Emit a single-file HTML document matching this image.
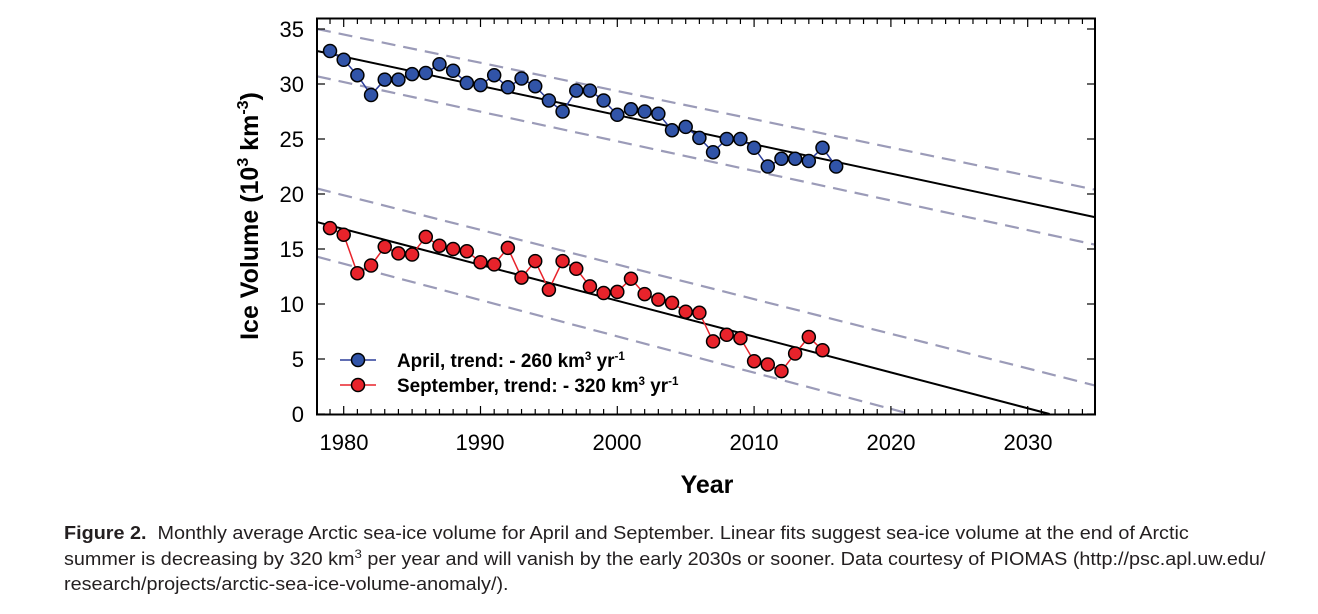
<!DOCTYPE html>
<html><head><meta charset="utf-8"><style>
body{margin:0;background:#fff;width:1318px;height:614px;overflow:hidden;position:relative;font-family:"Liberation Sans",sans-serif}
.cap{position:absolute;left:64px;top:521px;font-size:18px;line-height:25.5px;color:#231f20;white-space:nowrap;transform:scale(1.1,1);transform-origin:0 0}
</style></head><body>
<svg id="s" width="1318" height="520" style="position:absolute;left:0;top:0" font-family="Liberation Sans, sans-serif">
<g id="g"></g>
<rect x="317" y="18.5" width="778" height="396" fill="none" stroke="#000" stroke-width="2"/>
<g font-size="22" text-anchor="end" fill="#000">
<text x="304" y="37">35</text><text x="304" y="92">30</text><text x="304" y="147">25</text><text x="304" y="202">20</text><text x="304" y="257">15</text><text x="304" y="312">10</text><text x="304" y="367">5</text><text x="304" y="422">0</text>
</g>
<g font-size="22" text-anchor="middle">
<text x="344" y="450">1980</text><text x="480" y="450">1990</text><text x="617" y="450">2000</text><text x="754" y="450">2010</text><text x="891" y="450">2020</text><text x="1028" y="450">2030</text>
</g>
<text x="707" y="493" font-size="25" font-weight="bold" text-anchor="middle">Year</text>
<text transform="translate(258,216) rotate(-90)" font-size="25" font-weight="bold" text-anchor="middle">Ice Volume (10<tspan dy="-10" font-size="16">3</tspan><tspan dy="10"> km</tspan><tspan dy="-10" font-size="16">-3</tspan><tspan dy="10">)</tspan></text>
<line x1="340" y1="360" x2="376" y2="360" stroke="#2d3e9a" stroke-width="1.5"/><circle cx="358" cy="360" r="6.5" fill="#3154a8" stroke="#000" stroke-width="1.5"/>
<line x1="340" y1="385" x2="376" y2="385" stroke="#e8232b" stroke-width="1.5"/><circle cx="358" cy="385" r="6.5" fill="#e8232b" stroke="#000" stroke-width="1.5"/>
<g font-size="19.5" font-weight="bold" transform="translate(397,0) scale(0.97,1)">
<text x="0" y="367">April, trend: - 260 km<tspan dy="-7" font-size="12">3</tspan><tspan dy="7"> yr</tspan><tspan dy="-7" font-size="12">-1</tspan></text>
<text x="0" y="392">September, trend: - 320 km<tspan dy="-7" font-size="12">3</tspan><tspan dy="7"> yr</tspan><tspan dy="-7" font-size="12">-1</tspan></text>
</g>
</svg>
<div class="cap"><b>Figure 2.</b>&nbsp; Monthly average Arctic sea-ice volume for April and September. Linear fits suggest sea-ice volume at the end of Arctic<br>summer is decreasing by 320&nbsp;km<sup style="font-size:12px;line-height:0">3</sup> per year and will vanish by the early 2030s or sooner. Data courtesy of PIOMAS (http://psc.apl.uw.edu/<br>research/projects/arctic-sea-ice-volume-anomaly/).</div>
<script>
const X=y=>343.7+(y-1980)*13.68, Y=v=>414-v*11;
const NS="http://www.w3.org/2000/svg",g=document.getElementById('g');
function el(t,a){const e=document.createElementNS(NS,t);for(const k in a)e.setAttribute(k,a[k]);g.appendChild(e);return e;}
const x0=1978.05,x1=2034.9;
function ln(a,b,c,d,dash){el('line',{x1:X(a),y1:Y(b),x2:X(c),y2:Y(d),stroke:dash?'#9b9bb8':'#000','stroke-width':dash?2.2:2,'stroke-dasharray':dash?'14,8':''});}
ln(x0,35.0,x1,20.4,1);ln(x0,30.7,x1,15.4,1);ln(x0,20.5,x1,2.6,1);ln(x0,14.3,2021.4,0,1);
ln(x0,33.0,x1,17.9,0);ln(x0,17.45,2031.6,0,0);
for(let y=1979;y<=2034;y++){const big=y%10==0,L=big?8:5;el('line',{x1:X(y),y1:414,x2:X(y),y2:414-L,stroke:'#000','stroke-width':1.2});el('line',{x1:X(y),y1:19,x2:X(y),y2:19+L,stroke:'#000','stroke-width':1.2});}
for(let v=0;v<=35;v+=5){el('line',{x1:317,y1:Y(v),x2:325,y2:Y(v),stroke:'#000','stroke-width':1.2});el('line',{x1:1095,y1:Y(v),x2:1087,y2:Y(v),stroke:'#000','stroke-width':1.2});}
const A=[33.0,32.2,30.8,29.0,30.4,30.4,30.9,31.0,31.8,31.2,30.1,29.9,30.8,29.7,30.5,29.8,28.5,27.5,29.4,29.4,28.5,27.2,27.7,27.5,27.3,25.8,26.1,25.1,23.8,25.0,25.0,24.2,22.5,23.2,23.2,23.0,24.2,22.5];
const S=[16.9,16.3,12.8,13.5,15.2,14.6,14.5,16.1,15.3,15.0,14.8,13.8,13.6,15.1,12.4,13.9,11.3,13.9,13.2,11.6,11.0,11.1,12.3,10.9,10.4,10.1,9.3,9.2,6.6,7.2,6.9,4.8,4.5,3.9,5.5,7.0,5.8];
function ser(d,lc,fc){el('polyline',{points:d.map((v,i)=>X(1979+i)+','+Y(v)).join(' '),fill:'none',stroke:lc,'stroke-width':1.5});d.forEach((v,i)=>el('circle',{cx:X(1979+i),cy:Y(v),r:6.5,fill:fc,stroke:'#000','stroke-width':1.5}));}
ser(A,'#2d3e9a','#3154a8');ser(S,'#e8232b','#e8232b');
</script>
</body></html>
